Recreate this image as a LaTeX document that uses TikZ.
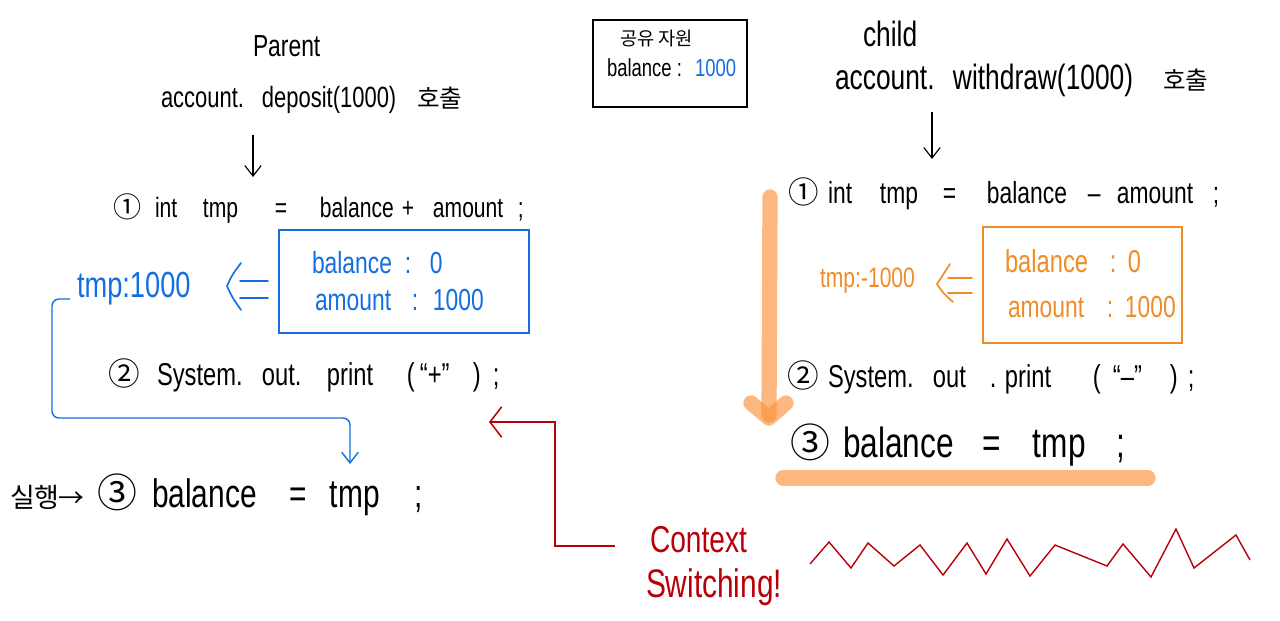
\documentclass[tikz,border=0pt]{standalone}
\usepackage{fontspec}
\setmainfont{Liberation Sans}
\newfontfamily\hand[FakeStretch=0.75]{Liberation Sans}
\newfontfamily\kr{Noto Sans CJK KR}
\usetikzlibrary{arrows.meta}
\newlength\pxu \setlength\pxu{0.03cm}
\newcommand\wb[2]{\makebox[#1\pxu][l]{#2}}
\newcommand\fs[1]{\fontsize{#1}{#1}\selectfont}
\definecolor{hblue}{RGB}{20,110,225}
\definecolor{horange}{RGB}{240,140,40}
\definecolor{hred}{RGB}{185,0,10}
\definecolor{hlight}{RGB}{251,146,60}
\begin{document}
\begin{tikzpicture}[x=0.03cm,y=-0.03cm,
  txt/.style={anchor=base west, inner sep=0pt, outer sep=0pt},
  frame/.style={draw, line width=1.2pt, inner sep=0pt},
  blackarr/.style={line width=1pt, -{Straight Barb[length=9pt,width=14pt]}},
  bluearr/.style={draw=hblue, line width=1.2pt, -{Straight Barb[length=9pt,width=14pt]}},
  redarr/.style={draw=hred, line width=1.3pt, -{Straight Barb[length=10pt,width=26pt]}},
  impl/.style={line width=1.4pt, line cap=round},
  hilite/.style={draw=hlight, line width=13pt, line cap=round, line join=round, opacity=0.65}]
\useasboundingbox (0,0) rectangle (1280,621);
\fill[white] (0,0) rectangle (1280,621);

% ---------- shared resource ----------
\node[frame, minimum width=154\pxu, minimum height=87\pxu] (shared) at (670,63.5) {};
\node[txt, font=\kr\fs{16}] (sharedt) at (620,46) {공유 자원};
\node[txt, font=\hand\fs{21}] (sharedb) at (607,77) {\wb{70}{balance}\wb{18}{:}{\color{hblue}1000}};

% ---------- parent ----------
\node[txt, font=\hand\fs{26}] (parent) at (253,57) {Parent};
\node[txt, font=\hand\fs{25}] (dep) at (161,108) {\wb{101}{account.}\wb{155}{deposit(1000)}{\kr\fs{21}호출}};
\coordinate (pa1) at (253,135);
\coordinate (pa2) at (253,177);
\draw[blackarr] (pa1) -- (pa2);

\node[txt, font=\hand\fs{24}] (l1) at (113,218) {\wb{42}{\kr ①}\wb{48}{int}\wb{72}{tmp}\wb{45}{=}\wb{82}{balance}\wb{31}{+}\wb{85}{amount};};

\node[frame, draw=hblue, minimum width=250\pxu, minimum height=103\pxu] (bbox) at (404,281.5) {};
\node[txt, font=\hand\fs{26}, text=hblue] (bbal) at (312,273) {\wb{93}{balance}\wb{25}{:}0};
\node[txt, font=\hand\fs{26}, text=hblue] (bamt) at (315,310) {\wb{97}{amount}\wb{21}{:}1000};
\node[txt, font=\hand\fs{31}, text=hblue] (btmp) at (77,297) {tmp:1000};
% hand-drawn "<=" sign
\draw[impl, hblue] (241,263) .. controls (232,275) .. (227,286) .. controls (232,297) .. (241,310);
\draw[impl, hblue] (240,281) -- (268,281);
\draw[impl, hblue] (240,298) -- (268,298);

\node[txt, font=\hand\fs{27}] (l2) at (108,385) {\wb{49}{\kr ②}\wb{105}{System.}\wb{65}{out.}\wb{80}{print}\wb{13}{(}\wb{53}{“+”}\wb{20}{)};};

\node[txt, font=\hand\fs{34}] (l3) at (10,507) {\wb{48}{\kr\fs{23}실행}\wb{39}{\kr\fs{22}→}\wb{55}{\kr\fs{34}③}\wb{138}{balance}\wb{40}{=}\wb{85}{tmp};};

\coordinate (bc1) at (70,299);
\coordinate (bc2) at (350,464);
\draw[bluearr, rounded corners=6pt] (bc1) -| (52,418) -| (bc2);

% ---------- child ----------
\node[txt, font=\hand\fs{30}] (child) at (863,47) {child};
\node[txt, font=\hand\fs{30}] (wd) at (835,90) {\wb{118}{account.}\wb{210}{withdraw(1000)}{\kr\fs{21}호출}};
\coordinate (ca1) at (932,112);
\coordinate (ca2) at (932,159);
\draw[blackarr] (ca1) -- (ca2);

\node[txt, font=\hand\fs{26}] (r1) at (788,203) {\wb{40}{\kr ①}\wb{52}{int}\wb{63}{tmp}\wb{44}{=}\wb{101}{balance}\wb{29}{–}\wb{96}{amount};};

\node[frame, draw=horange, minimum width=199\pxu, minimum height=116\pxu] (obox) at (1082.5,285) {};
\node[txt, font=\hand\fs{27}, text=horange] (obal) at (1005,272) {\wb{105}{balance}\wb{18}{:}0};
\node[txt, font=\hand\fs{26}, text=horange] (oamt) at (1008,317) {\wb{99}{amount}\wb{18}{:}1000};
\node[txt, font=\hand\fs{24}, text=horange] (otmp) at (820,287) {tmp:-1000};
\draw[impl, horange] (950,264) .. controls (943,274) .. (937,284) .. controls (943,293) .. (953,302);
\draw[impl, horange] (948,278) -- (972,278);
\draw[impl, horange] (948,293) -- (972,293);

\node[txt, font=\hand\fs{27}] (r2) at (787,387) {\wb{41}{\kr ②}\wb{105}{System.}\wb{57}{out}\wb{15}{.}\wb{88}{print}\wb{20}{(}\wb{57}{“–”}\wb{18}{)};};
\node[txt, font=\hand\fs{36}] (r3) at (790,457) {\wb{53}{\kr\fs{34}③}\wb{140}{balance}\wb{50}{=}\wb{84}{tmp};};

% highlight arrow and bar
\coordinate (ov1) at (770,197);
\coordinate (ov2) at (769,415);
\draw[hilite] (ov1) -- (ov2);
\draw[hilite] (751,403) -- (769,418) -- (786,403);
\coordinate (hb1) at (783,478);
\coordinate (hb2) at (1148,478);
\draw[hilite] (hb1) -- (hb2);

% ---------- context switching ----------
\node[txt, font=\hand\fs{32}, text=hred] (ctx) at (650,552) {Context};
\node[txt, font=\hand\fs{34}, text=hred] (sw) at (646,597) {Switching!};
\coordinate (rc1) at (615,546);
\coordinate (rtip) at (489,422);
\draw[redarr] (rc1) -- ++(-60,0) |- (rtip);

\draw[hred, line width=1.2pt, line join=miter] (810,564) -- (829,542) -- (851,568) -- (868,543) -- (894,566) -- (920,545) -- (943,575) -- (967,543) -- (986,574) -- (1007,539) -- (1030,576) -- (1055,545) -- (1107,566) -- (1123,544) -- (1151,577) -- (1176,529) -- (1194,568) -- (1236,535) -- (1250,560);
\end{tikzpicture}
\end{document}
